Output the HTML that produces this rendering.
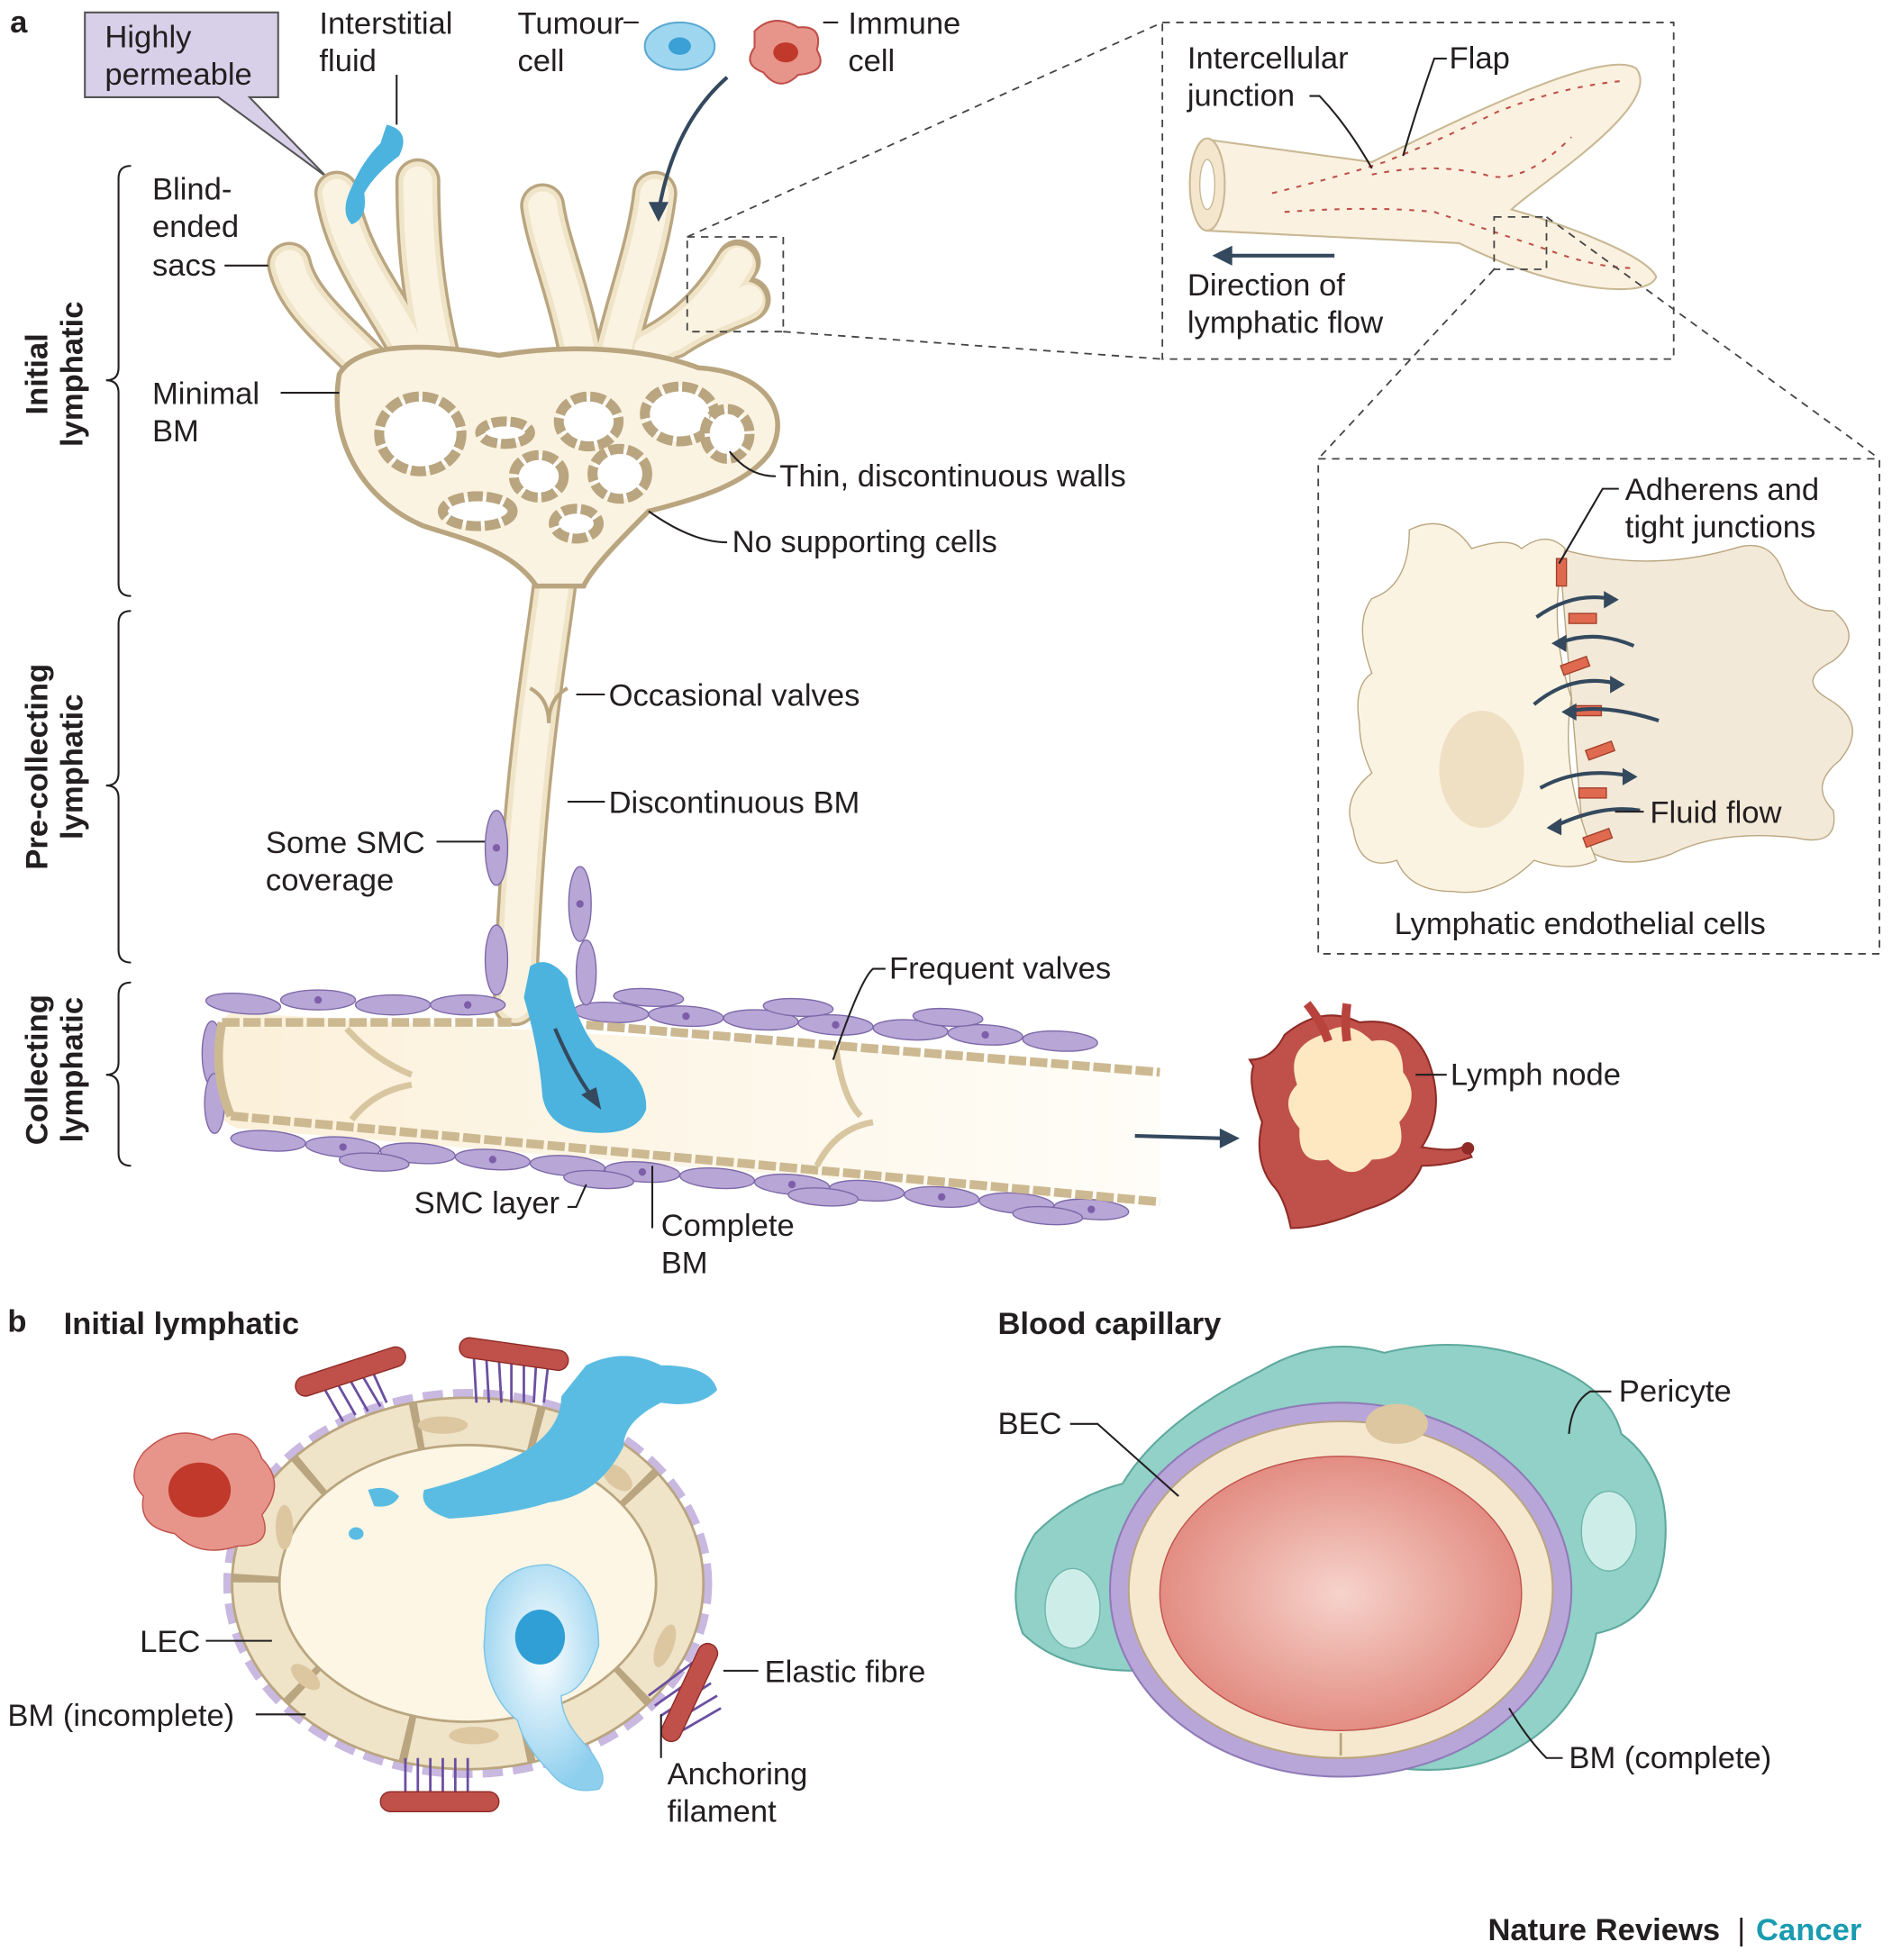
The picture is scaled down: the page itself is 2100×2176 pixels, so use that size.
<!DOCTYPE html>
<html><head><meta charset="utf-8"><style>
html,body{margin:0;padding:0;background:#fff}
svg{display:block}
text{font-family:"Liberation Sans",sans-serif;font-size:25px;fill:#231f20}
.b{font-weight:bold}
.ln{stroke:#231f20;stroke-width:1.5;fill:none}
.dl{stroke:#444;stroke-width:1.3;fill:none;stroke-dasharray:6 5}
</style></head><body>
<svg width="2100" height="2176" viewBox="0 0 1517 1572" xmlns="http://www.w3.org/2000/svg">
<defs>
<radialGradient id="lum" cx="0.5" cy="0.5" r="0.6"><stop offset="0" stop-color="#f6d3cb"/><stop offset="1" stop-color="#df7f74"/></radialGradient>
<linearGradient id="ves" x1="0" x2="1"><stop offset="0" stop-color="#fbf0d9"/><stop offset="1" stop-color="#fffdf8"/></linearGradient>
<radialGradient id="blu" cx="0.5" cy="0.4" r="0.6"><stop offset="0" stop-color="#fff"/><stop offset="1" stop-color="#8fcfee"/></radialGradient>
</defs>
<text x="8" y="26" class="b" font-size="26">a</text>
<text x="6" y="1068" class="b" font-size="26">b</text>

<path d="M68,10 H223 V78 H200 L262,142 L175,78 H68 Z" fill="#d8cfe9" stroke="#555" stroke-width="1.5"/>
<text x="84" y="38">Highly</text><text x="84" y="68">permeable</text>
<text x="256" y="27">Interstitial</text><text x="256" y="57">fluid</text>
<text x="415" y="27">Tumour</text><text x="415" y="57">cell</text>
<text x="680" y="27">Immune</text><text x="680" y="57">cell</text>
<path class="ln" d="M318,60 V100 M500,18 H512 M660,18 H672"/>
<ellipse cx="545" cy="37" rx="28" ry="19" fill="#9fd6ef" stroke="#5aa9d2" stroke-width="1.5"/>
<ellipse cx="545" cy="37" rx="9" ry="7" fill="#3aa0d6"/>
<path d="M605,25 Q620,10 640,22 Q660,20 655,40 Q665,58 640,60 Q625,75 612,58 Q595,52 605,38 Z" fill="#e7958a" stroke="#c0504a" stroke-width="1.5"/>
<ellipse cx="630" cy="42" rx="10" ry="8" fill="#c0392b"/>

<g class="ln">
<path d="M105,133 Q95,133 95,143 V295 Q95,305 85,305 Q95,305 95,315 V468 Q95,478 105,478"/>
<path d="M105,490 Q95,490 95,500 V620 Q95,630 85,630 Q95,630 95,640 V762 Q95,772 105,772"/>
<path d="M105,788 Q95,788 95,798 V852 Q95,862 85,862 Q95,862 95,872 V925 Q95,935 105,935"/>
</g>
<text class="b" transform="translate(38,300) rotate(-90)" text-anchor="middle" font-size="26">Initial</text>
<text class="b" transform="translate(66,300) rotate(-90)" text-anchor="middle" font-size="26">lymphatic</text>
<text class="b" transform="translate(38,615) rotate(-90)" text-anchor="middle" font-size="26">Pre-collecting</text>
<text class="b" transform="translate(66,615) rotate(-90)" text-anchor="middle" font-size="26">lymphatic</text>
<text class="b" transform="translate(38,858) rotate(-90)" text-anchor="middle" font-size="26">Collecting</text>
<text class="b" transform="translate(66,858) rotate(-90)" text-anchor="middle" font-size="26">lymphatic</text>

<g fill="none" stroke-linecap="round">
<g stroke="#b9a57f" stroke-width="36">
<path d="M350,330 C330,260 280,220 270,155"/><path d="M360,320 C340,250 335,200 335,145"/>
<path d="M320,320 C290,280 240,250 232,212"/><path d="M470,310 C460,240 440,200 435,165"/>
<path d="M490,300 C500,250 520,200 525,155"/><path d="M520,280 C560,260 580,230 592,210"/>
<path d="M540,270 C570,250 595,245 600,240"/><path d="M448,440 C440,520 420,600 413,805"/>
</g>
<g stroke="#f0e4c8" stroke-width="31" stroke-dasharray="14 3">
<path d="M350,330 C330,260 280,220 270,155"/><path d="M360,320 C340,250 335,200 335,145"/>
<path d="M320,320 C290,280 240,250 232,212"/><path d="M470,310 C460,240 440,200 435,165"/>
<path d="M490,300 C500,250 520,200 525,155"/><path d="M520,280 C560,260 580,230 592,210"/>
<path d="M540,270 C570,250 595,245 600,240"/><path d="M448,440 C440,520 420,600 413,805"/>
</g>
<g stroke="#fbf3e2" stroke-width="23">
<path d="M350,330 C330,260 280,220 270,155"/><path d="M360,320 C340,250 335,200 335,145"/>
<path d="M320,320 C290,280 240,250 232,212"/><path d="M470,310 C460,240 440,200 435,165"/>
<path d="M490,300 C500,250 520,200 525,155"/><path d="M520,280 C560,260 580,230 592,210"/>
<path d="M540,270 C570,250 595,245 600,240"/><path d="M448,440 C440,520 420,600 413,805"/>
</g>
</g>
<path d="M272,300 C290,270 360,278 400,285 C460,275 520,280 560,295 C612,298 635,330 618,362 C600,388 560,400 520,410 C500,430 475,455 468,470 L430,470 C410,440 370,432 340,422 C298,405 262,360 272,300 Z" fill="#fbf3e2" stroke="#b9a57f" stroke-width="4"/>
<g fill="#fff" stroke="#b9a57f" stroke-width="8" stroke-dasharray="12 3">
<ellipse cx="337" cy="348" rx="33" ry="30"/><ellipse cx="405" cy="347" rx="20" ry="9"/>
<ellipse cx="472" cy="338" rx="24" ry="20"/><ellipse cx="432" cy="382" rx="20" ry="17"/>
<ellipse cx="497" cy="380" rx="22" ry="20"/><ellipse cx="545" cy="332" rx="28" ry="22"/>
<ellipse cx="383" cy="410" rx="28" ry="12"/><ellipse cx="462" cy="420" rx="18" ry="12"/>
<ellipse cx="583" cy="348" rx="18" ry="20"/>
</g>
<path d="M310,100 Q330,105 320,125 Q300,140 292,155 Q295,175 282,180 Q272,170 282,150 Q290,130 305,115 Z" fill="#4cb3de"/>
<path d="M583,62 Q540,100 528,170" stroke="#34495e" stroke-width="3" fill="none"/>
<path d="M520,162 L528,178 L536,162 Z" fill="#34495e"/>
<rect x="551" y="190" width="77" height="76" class="dl"/>
<path class="dl" d="M551,190 L932,18 M628,266 L932,288"/>

<text x="122" y="160">Blind-</text><text x="122" y="190">ended</text><text x="122" y="221">sacs</text>
<text x="122" y="324">Minimal</text><text x="122" y="354">BM</text>
<text x="625" y="390">Thin, discontinuous walls</text>
<text x="587" y="443">No supporting cells</text>
<text x="488" y="566">Occasional valves</text>
<text x="488" y="652">Discontinuous BM</text>
<text x="213" y="684">Some SMC</text><text x="213" y="714">coverage</text>
<path class="ln" d="M180,213 H215 M225,315 H272 M585,362 Q600,382 622,382 M520,410 Q555,435 583,435 M462,557 H485 M455,643 H485 M350,675 H395"/>
<path d="M425,552 Q440,560 440,580 Q440,560 455,552" stroke="#b9a57f" stroke-width="3" fill="none"/>

<path d="M185,812 L930,856 L930,968 L190,905 Q165,895 170,860 Q172,820 185,812 Z" fill="url(#ves)"/>
<g fill="#b7a6d6" stroke="#7d68a8" stroke-width="1">
<ellipse cx="195" cy="805" rx="30" ry="8" transform="rotate(5 195 805)"/><ellipse cx="255" cy="802" rx="30" ry="8"/><ellipse cx="315" cy="806" rx="30" ry="8"/><ellipse cx="375" cy="806" rx="30" ry="8"/>
<ellipse cx="490" cy="812" rx="30" ry="8" transform="rotate(3 490 812)"/><ellipse cx="550" cy="815" rx="30" ry="8" transform="rotate(3 550 815)"/><ellipse cx="610" cy="818" rx="30" ry="8" transform="rotate(3 610 818)"/><ellipse cx="670" cy="822" rx="30" ry="8" transform="rotate(3 670 822)"/><ellipse cx="730" cy="826" rx="30" ry="8" transform="rotate(3 730 826)"/><ellipse cx="790" cy="830" rx="30" ry="8" transform="rotate(3 790 830)"/><ellipse cx="850" cy="835" rx="30" ry="8" transform="rotate(3 850 835)"/>
<ellipse cx="520" cy="800" rx="28" ry="7" transform="rotate(3 520 800)"/><ellipse cx="640" cy="808" rx="28" ry="7" transform="rotate(3 640 808)"/><ellipse cx="760" cy="816" rx="28" ry="7" transform="rotate(3 760 816)"/>
<ellipse cx="215" cy="915" rx="30" ry="8" transform="rotate(4 215 915)"/><ellipse cx="275" cy="920" rx="30" ry="8" transform="rotate(4 275 920)"/><ellipse cx="335" cy="925" rx="30" ry="8" transform="rotate(4 335 925)"/><ellipse cx="395" cy="930" rx="30" ry="8" transform="rotate(4 395 930)"/><ellipse cx="455" cy="935" rx="30" ry="8" transform="rotate(4 455 935)"/><ellipse cx="515" cy="940" rx="30" ry="8" transform="rotate(4 515 940)"/><ellipse cx="575" cy="945" rx="30" ry="8" transform="rotate(4 575 945)"/><ellipse cx="635" cy="950" rx="30" ry="8" transform="rotate(4 635 950)"/><ellipse cx="695" cy="955" rx="30" ry="8" transform="rotate(4 695 955)"/><ellipse cx="755" cy="960" rx="30" ry="8" transform="rotate(4 755 960)"/><ellipse cx="815" cy="965" rx="30" ry="8" transform="rotate(4 815 965)"/><ellipse cx="875" cy="970" rx="30" ry="8" transform="rotate(4 875 970)"/>
<ellipse cx="300" cy="932" rx="28" ry="7" transform="rotate(4 300 932)"/><ellipse cx="480" cy="946" rx="28" ry="7" transform="rotate(4 480 946)"/><ellipse cx="660" cy="960" rx="28" ry="7" transform="rotate(4 660 960)"/><ellipse cx="840" cy="975" rx="28" ry="7" transform="rotate(4 840 975)"/>
<ellipse cx="170" cy="845" rx="8" ry="26"/><ellipse cx="172" cy="885" rx="8" ry="24"/>
<ellipse cx="398" cy="680" rx="9" ry="30"/><ellipse cx="398" cy="770" rx="9" ry="28"/><ellipse cx="465" cy="725" rx="9" ry="30"/><ellipse cx="470" cy="780" rx="8" ry="26"/>
</g>
<g fill="#7d5ea8"><circle cx="255" cy="802" r="3"/><circle cx="375" cy="806" r="3"/><circle cx="550" cy="815" r="3"/><circle cx="670" cy="822" r="3"/><circle cx="790" cy="830" r="3"/><circle cx="275" cy="920" r="3"/><circle cx="395" cy="930" r="3"/><circle cx="515" cy="940" r="3"/><circle cx="635" cy="950" r="3"/><circle cx="755" cy="960" r="3"/><circle cx="875" cy="970" r="3"/><circle cx="398" cy="680" r="3"/><circle cx="465" cy="725" r="3"/></g>
<path d="M178,820 L410,820 M470,822 L930,860 M185,895 L930,964" stroke="#cdb991" stroke-width="7" stroke-dasharray="14 3" fill="none"/>
<path d="M178,820 Q170,860 185,895" stroke="#cdb991" stroke-width="7" fill="none"/>
<g fill="none" stroke="#d8c6a0" stroke-width="5">
<path d="M278,825 Q300,850 330,862"/><path d="M282,898 Q300,875 330,870"/>
<path d="M670,838 Q675,880 690,895"/><path d="M655,935 Q670,905 700,900"/>
</g>
<path d="M425,775 Q440,765 455,785 Q462,820 478,840 Q520,860 518,890 Q510,912 470,908 Q440,905 435,880 Q432,840 420,800 Z" fill="#4cb3de"/>
<path d="M445,825 Q460,860 475,880" stroke="#34495e" stroke-width="3" fill="none"/>
<path d="M466,878 L482,890 L478,872 Z" fill="#34495e"/>
<path d="M910,911 L980,913" stroke="#34495e" stroke-width="3"/><path d="M978,905 L994,913 L978,921 Z" fill="#34495e"/>
<text x="713" y="785">Frequent valves</text>
<text x="332" y="973">SMC layer</text>
<text x="530" y="991">Complete</text><text x="530" y="1021">BM</text>
<path class="ln" d="M710,777 H700 Q690,785 668,850 M455,968 H462 L470,950 M523,935 V985"/>

<path d="M1030,830 Q1060,805 1090,820 Q1130,815 1145,850 Q1160,890 1140,920 Q1170,925 1175,918 L1180,928 Q1160,935 1140,935 Q1130,960 1095,970 Q1060,985 1035,985 Q1030,960 1020,950 Q1005,930 1012,900 Q1000,870 1005,855 L1002,850 Q1020,850 1030,830 Z" fill="#c0504a" stroke="#8e2b26" stroke-width="1.5"/>
<path d="M1060,830 Q1080,815 1100,835 Q1125,830 1125,860 Q1140,880 1122,900 Q1130,930 1100,930 Q1085,950 1065,930 Q1040,935 1042,905 Q1025,885 1040,870 Q1030,840 1060,830 Z" fill="#fde8c2"/>
<path d="M1048,805 Q1060,820 1065,835 M1080,805 Q1078,820 1080,835" stroke="#b8433d" stroke-width="7" fill="none"/>
<circle cx="1177" cy="921" r="5" fill="#8e2b26"/>
<text x="1163" y="870">Lymph node</text>
<path class="ln" d="M1135,862 H1160"/>

<rect x="932" y="18" width="410" height="270" class="dl"/>
<path d="M968,112 L1100,130 C1200,80 1290,40 1312,55 C1335,85 1230,150 1212,168 C1260,182 1320,205 1328,222 C1322,240 1250,235 1170,195 L968,185 Z" fill="#fbf1e0" stroke="#c8b894" stroke-width="1.5"/>
<ellipse cx="968" cy="148" rx="14" ry="37" fill="#f3e6cc" stroke="#c8b894" stroke-width="1.5"/>
<ellipse cx="968" cy="148" rx="6" ry="20" fill="#fff" stroke="#c8b894"/>
<g fill="none" stroke="#c0504a" stroke-width="1.5" stroke-dasharray="4 6">
<path d="M1020,155 Q1080,140 1110,130 Q1160,110 1200,90 Q1250,70 1300,65"/>
<path d="M1030,170 Q1100,165 1150,170 Q1210,190 1240,200 Q1280,215 1310,215"/>
<path d="M1100,140 Q1150,130 1190,140 Q1220,150 1260,110"/>
</g>
<path d="M1070,205 L985,205" stroke="#34495e" stroke-width="3"/><path d="M988,197 L972,205 L988,213 Z" fill="#34495e"/>
<text x="952" y="55">Intercellular</text><text x="952" y="85">junction</text>
<text x="1162" y="55">Flap</text>
<text x="952" y="237">Direction of</text><text x="952" y="267">lymphatic flow</text>
<path class="ln" d="M1050,77 H1058 Q1080,100 1100,135 M1160,47 H1150 Q1135,90 1125,125"/>
<rect x="1198" y="174" width="42" height="42" class="dl"/>
<path class="dl" d="M1198,216 L1057,368 M1240,174 L1507,368"/>
<rect x="1057" y="368" width="450" height="397" class="dl"/>
<path d="M1250,440 Q1320,460 1390,440 Q1420,430 1430,460 Q1440,490 1470,490 Q1495,510 1470,530 Q1440,545 1465,560 Q1500,580 1475,610 Q1450,630 1470,650 Q1475,680 1440,672 Q1380,665 1340,685 Q1300,700 1270,680 Z" fill="#f3e9d8" stroke="#b9a57f" stroke-width="1"/>
<path d="M1130,425 Q1160,410 1180,440 Q1210,430 1220,440 Q1240,425 1255,440 Q1240,500 1260,560 Q1250,620 1280,690 Q1260,700 1230,690 Q1200,720 1165,715 Q1130,715 1120,690 Q1090,700 1085,665 Q1075,640 1100,620 Q1090,600 1090,580 Q1085,550 1100,540 Q1085,500 1100,480 Q1130,470 1130,425 Z" fill="#fbf3e2" stroke="#b9a57f" stroke-width="1"/>
<ellipse cx="1188" cy="617" rx="34" ry="47" fill="#efe0c4"/>
<g fill="#e06a4f" stroke="#a3402c" stroke-width="1">
<rect x="1248" y="448" width="8" height="22"/><rect x="1258" y="492" width="22" height="8"/><rect x="1252" y="530" width="22" height="8" transform="rotate(-20 1263 534)"/>
<rect x="1262" y="566" width="22" height="8"/><rect x="1272" y="598" width="22" height="8" transform="rotate(-20 1283 602)"/><rect x="1266" y="632" width="22" height="8"/><rect x="1270" y="668" width="22" height="8" transform="rotate(-20 1281 672)"/>
</g>
<g fill="none" stroke="#34495e" stroke-width="3">
<path d="M1232,495 Q1260,475 1290,480"/><path d="M1310,518 Q1280,505 1252,515"/>
<path d="M1230,565 Q1260,540 1295,548"/><path d="M1330,578 Q1290,565 1260,570"/>
<path d="M1235,632 Q1265,615 1305,622"/><path d="M1315,650 Q1285,645 1248,662"/>
</g>
<g fill="#34495e"><path d="M1286,474 L1298,481 L1286,488Z"/><path d="M1256,509 L1244,516 L1256,523Z"/><path d="M1291,542 L1303,549 L1291,556Z"/><path d="M1264,564 L1252,571 L1264,578Z"/><path d="M1301,616 L1313,623 L1301,630Z"/><path d="M1252,656 L1240,664 L1252,670Z"/></g>
<text x="1303" y="401">Adherens and</text><text x="1303" y="431">tight junctions</text>
<text x="1323" y="660">Fluid flow</text>
<text x="1118" y="749">Lymphatic endothelial cells</text>
<path class="ln" d="M1298,392 H1285 L1250,452 M1318,651 H1295"/>

<text x="51" y="1070" class="b">Initial lymphatic</text>
<ellipse cx="375" cy="1270" rx="190" ry="150" fill="none" stroke="#c9b8e0" stroke-width="12" stroke-dasharray="16 8"/>
<ellipse cx="375" cy="1270" rx="170" ry="130" fill="#fdf6e4" stroke="#b9a57f" stroke-width="40"/>
<ellipse cx="375" cy="1270" rx="170" ry="130" fill="none" stroke="#efe3c8" stroke-width="36" stroke-dasharray="90 6"/>
<g fill="#dcc7a0"><ellipse cx="355" cy="1143" rx="20" ry="7"/><ellipse cx="228" cy="1225" rx="7" ry="18"/><ellipse cx="495" cy="1185" rx="14" ry="8" transform="rotate(40 495 1185)"/><ellipse cx="533" cy="1320" rx="7" ry="18" transform="rotate(20 533 1320)"/><ellipse cx="380" cy="1392" rx="20" ry="7"/><ellipse cx="245" cy="1345" rx="14" ry="7" transform="rotate(40 245 1345)"/></g>
<g stroke="#6b4fa0" stroke-width="2">
<path d="M255,1105 L275,1140 M265,1100 L285,1135 M275,1097 L295,1132 M285,1094 L305,1128 M295,1092 L310,1125"/>
<path d="M380,1090 L382,1125 M390,1090 L392,1125 M400,1090 L402,1125 M410,1090 L410,1125 M420,1090 L420,1125 M430,1090 L428,1125 M440,1090 L436,1125"/>
<path d="M325,1410 L325,1440 M335,1410 L335,1440 M345,1410 L345,1440 M355,1410 L355,1440 M365,1410 L365,1440 M375,1410 L375,1440"/>
<path d="M520,1360 L560,1330 M525,1368 L565,1340 M530,1376 L570,1350 M535,1384 L575,1360 M540,1392 L578,1370"/>
</g>
<g fill="#c0504a" stroke="#8e2b26" stroke-width="1">
<rect x="235" y="1092" width="92" height="16" rx="8" transform="rotate(-18 281 1100)"/>
<rect x="368" y="1078" width="88" height="16" rx="8" transform="rotate(8 412 1086)"/>
<rect x="305" y="1437" width="95" height="16" rx="8"/>
<rect x="545" y="1315" width="16" height="85" rx="8" transform="rotate(25 553 1357)"/>
</g>
<path d="M115,1165 Q140,1140 170,1155 Q200,1140 210,1170 Q230,1190 210,1215 Q220,1240 190,1240 Q160,1250 140,1230 Q110,1225 115,1200 Q100,1185 115,1165 Z" fill="#e7958a" stroke="#c0504a"/>
<ellipse cx="160" cy="1195" rx="25" ry="22" fill="#c0392b"/>
<path d="M470,1095 Q500,1080 530,1095 Q570,1095 575,1115 Q560,1130 530,1125 Q500,1140 500,1160 Q480,1200 440,1205 Q410,1215 360,1218 Q335,1210 340,1195 Q380,1185 410,1170 Q450,1150 450,1120 Z" fill="#5bbce3"/>
<path d="M295,1195 Q310,1190 320,1200 Q315,1210 300,1208 Z M285,1225 a6,5 0 1,0 1,0" fill="#5bbce3"/>
<path d="M390,1290 Q400,1255 440,1255 Q480,1265 480,1320 Q470,1355 450,1360 Q450,1380 470,1400 Q490,1425 480,1435 Q455,1440 440,1420 Q420,1400 415,1380 Q390,1360 388,1320 Z" fill="url(#blu)" stroke="#7ac4e6"/>
<ellipse cx="433" cy="1313" rx="20" ry="22" fill="#2f9fd6"/>
<text x="112" y="1325">LEC</text>
<text x="6" y="1384">BM (incomplete)</text>
<text x="613" y="1349">Elastic fibre</text>
<text x="535" y="1431">Anchoring</text><text x="535" y="1461">filament</text>
<path class="ln" d="M165,1316 H218 M205,1375 H245 M608,1340 H580 M530,1410 V1375"/>

<text x="800" y="1070" class="b">Blood capillary</text>
<path d="M1010,1100 Q1060,1070 1110,1085 Q1170,1070 1230,1090 Q1290,1110 1300,1150 Q1340,1180 1335,1240 Q1330,1300 1280,1310 Q1270,1370 1220,1400 Q1180,1425 1120,1418 Q1060,1425 1000,1400 Q940,1380 910,1340 Q850,1340 820,1310 Q805,1270 830,1230 Q860,1200 900,1190 Q930,1140 1010,1100 Z" fill="#91d1c7" stroke="#5fa99e" stroke-width="1.5"/>
<ellipse cx="860" cy="1290" rx="22" ry="32" fill="#cdeee8" stroke="#6fb5ab"/>
<ellipse cx="1290" cy="1228" rx="22" ry="32" fill="#cdeee8" stroke="#6fb5ab"/>
<ellipse cx="1075" cy="1275" rx="185" ry="150" fill="#b9a6d8" stroke="#8f7ab8" stroke-width="1.5"/>
<ellipse cx="1075" cy="1275" rx="170" ry="135" fill="#f5e8cf" stroke="#b9a57f" stroke-width="1.5"/>
<ellipse cx="1075" cy="1278" rx="145" ry="110" fill="url(#lum)" stroke="#c0504a" stroke-width="1"/>
<ellipse cx="1120" cy="1142" rx="25" ry="16" fill="#dcc7a0"/>
<path d="M1075,1390 V1408" stroke="#b9a57f" stroke-width="2"/>
<text x="800" y="1150">BEC</text>
<text x="1298" y="1124">Pericyte</text>
<text x="1258" y="1418">BM (complete)</text>
<path class="ln" d="M858,1142 H880 L945,1200 M1292,1116 H1275 Q1260,1125 1258,1150 M1253,1410 H1240 Q1225,1395 1210,1370"/>

<text x="1193" y="1556" class="b" font-size="25">Nature Reviews</text>
<text x="1393" y="1556" font-size="25">|</text>
<text x="1408" y="1556" class="b" font-size="25" style="fill:#1a9bb0">Cancer</text>
</svg>
</body></html>
